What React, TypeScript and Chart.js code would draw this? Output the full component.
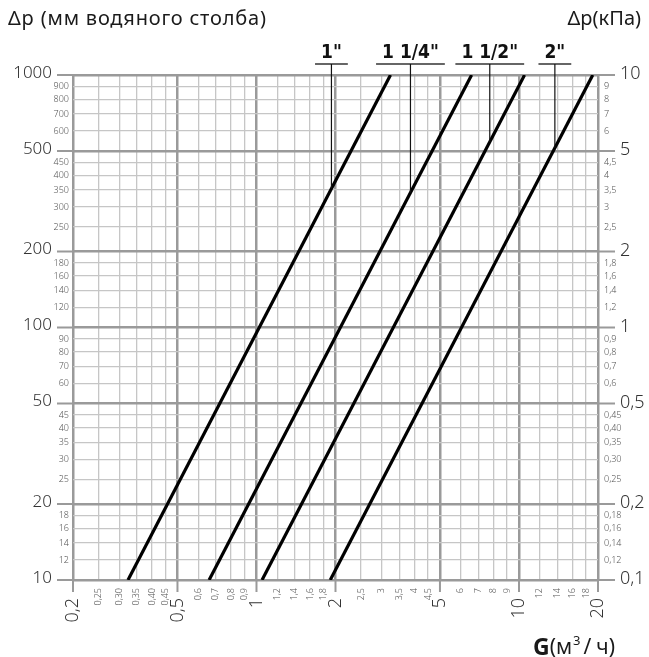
import React, { useEffect, useRef } from "react";
import { Chart, registerables } from "chart.js";

Chart.register(...registerables);

// X axis (G, m3/h)
const xMajor = [0.2, 0.5, 1, 2, 5, 10, 20];
const xMajorLabels = ["0,2", "0,5", "1", "2", "5", "10", "20"];
const xMinor = [0.25, 0.3, 0.35, 0.4, 0.45, 0.6, 0.7, 0.8, 0.9, 1.2, 1.4, 1.6, 1.8, 2.5, 3, 3.5, 4, 4.5, 6, 7, 8, 9, 12, 14, 16, 18];
const xMinorLabels = ["0,25", "0,30", "0,35", "0,40", "0,45", "0,6", "0,7", "0,8", "0,9", "1,2", "1,4", "1,6", "1,8", "2,5", "3", "3,5", "4", "4,5", "6", "7", "8", "9", "12", "14", "16", "18"];

// Y axis (mm water column) and right kPa labels
const yMajor = [10, 20, 50, 100, 200, 500, 1000];
const yMajorLabels = ["10", "20", "50", "100", "200", "500", "1000"];
const yMinor = [12, 14, 16, 18, 25, 30, 35, 40, 45, 60, 70, 80, 90, 120, 140, 160, 180, 250, 300, 350, 400, 450, 600, 700, 800, 900];
const yMinorLabels = ["12", "14", "16", "18", "25", "30", "35", "40", "45", "60", "70", "80", "90", "120", "140", "160", "180", "250", "300", "350", "400", "450", "600", "700", "800", "900"];
const kpaMajorLabels = ["0,1", "0,2", "0,5", "1", "2", "5", "10"];
const kpaMinorLabels = ["0,12", "0,14", "0,16", "0,18", "0,25", "0,30", "0,35", "0,40", "0,45", "0,6", "0,7", "0,8", "0,9", "1,2", "1,4", "1,6", "1,8", "2,5", "3", "3,5", "4", "4,5", "6", "7", "8", "9"];

// Series (pipe sizes): endpoints of straight lines in log-log
const seriesNames = ['1"', '1 1/4"', '1 1/2"', '2"'];
const s1 = [{ x: 0.324, y: 10 }, { x: 3.24, y: 1000 }];
const s114 = [{ x: 0.66, y: 10 }, { x: 6.6, y: 1000 }];
const s112 = [{ x: 1.05, y: 10 }, { x: 10.5, y: 1000 }];
const s2 = [{ x: 1.91, y: 10 }, { x: 19.1, y: 1000 }];
const seriesData = [s1, s114, s112, s2];
// Leader line positions (x value) and where they meet the curve (y value)
const leaderX = [1.93, 3.86, 7.74, 13.7];
const leaderY = [355, 342, 543, 514];

const FONT = "'Noto Sans', 'DejaVu Sans', sans-serif";

const overlay = {
  id: "overlay",
  afterDatasetsDraw(chart: any) {
    const ctx = chart.ctx as CanvasRenderingContext2D;
    const xs = chart.scales.x;
    const ys = chart.scales.y;
    const { left, right, top, bottom } = chart.chartArea;
    ctx.save();

    // major tick extensions
    ctx.strokeStyle = "#9a9a9a";
    ctx.lineWidth = 2;
    yMajor.forEach((v) => {
      const py = ys.getPixelForValue(v);
      ctx.beginPath();
      ctx.moveTo(left - 16, py);
      ctx.lineTo(left, py);
      ctx.moveTo(right, py);
      ctx.lineTo(right + 17, py);
      ctx.stroke();
    });
    xMajor.forEach((v) => {
      const px = xs.getPixelForValue(v);
      ctx.beginPath();
      ctx.moveTo(px, bottom);
      ctx.lineTo(px, bottom + 12);
      ctx.stroke();
    });

    // left labels
    ctx.fillStyle = "#333";
    ctx.textBaseline = "middle";
    ctx.textAlign = "right";
    ctx.font = `300 17px ${FONT}`;
    yMajor.forEach((v, i) => {
      ctx.fillText(yMajorLabels[i], left - 21, ys.getPixelForValue(v) - 2);
    });
    ctx.fillStyle = "#555";
    ctx.font = `300 9px ${FONT}`;
    yMinor.forEach((v, i) => {
      ctx.fillText(yMinorLabels[i], left - 4, ys.getPixelForValue(v));
    });

    // right labels
    ctx.textAlign = "left";
    ctx.fillStyle = "#333";
    ctx.font = `300 18px ${FONT}`;
    yMajor.forEach((v, i) => {
      ctx.fillText(kpaMajorLabels[i], right + 22, ys.getPixelForValue(v) - 1);
    });
    ctx.fillStyle = "#555";
    ctx.font = `300 9px ${FONT}`;
    yMinor.forEach((v, i) => {
      ctx.fillText(kpaMinorLabels[i], right + 6, ys.getPixelForValue(v));
    });

    // bottom labels rotated
    const rot = (text: string, x: number, y: number) => {
      ctx.save();
      ctx.translate(x, y);
      ctx.rotate(-Math.PI / 2);
      ctx.fillText(text, 0, 0);
      ctx.restore();
    };
    ctx.textAlign = "right";
    ctx.textBaseline = "middle";
    ctx.fillStyle = "#333";
    ctx.font = `300 18px ${FONT}`;
    xMajor.forEach((v, i) => rot(xMajorLabels[i], xs.getPixelForValue(v), bottom + 18));
    ctx.fillStyle = "#555";
    ctx.font = `300 9px ${FONT}`;
    xMinor.forEach((v, i) => rot(xMinorLabels[i], xs.getPixelForValue(v), bottom + 8));

    // series labels with leader lines
    ctx.font = `bold 19px 'Liberation Sans Narrow', 'DejaVu Sans Condensed', sans-serif`;
    ctx.textAlign = "center";
    ctx.textBaseline = "alphabetic";
    leaderX.forEach((lx, i) => {
      const px = xs.getPixelForValue(lx);
      const py = ys.getPixelForValue(leaderY[i]);
      const w = ctx.measureText(seriesNames[i]).width;
      ctx.fillStyle = "#111";
      ctx.fillText(seriesNames[i], px, top - 17);
      ctx.strokeStyle = "#333";
      ctx.lineWidth = 1.5;
      ctx.beginPath();
      ctx.moveTo(px - w / 2 - 6, top - 11);
      ctx.lineTo(px + w / 2 + 6, top - 11);
      ctx.stroke();
      ctx.lineWidth = 1.2;
      ctx.strokeStyle = "#111";
      ctx.beginPath();
      ctx.moveTo(px, top - 11);
      ctx.lineTo(px, py);
      ctx.stroke();
    });

    // titles
    ctx.fillStyle = "#1a1a1a";
    ctx.textBaseline = "middle";
    ctx.font = `20px ${FONT}`;
    ctx.textAlign = "left";
    (ctx as any).letterSpacing = "0.8px";
    ctx.fillText("Δp (мм водяного столба)", 8, 19);
    (ctx as any).letterSpacing = "0px";
    ctx.textAlign = "right";
    ctx.fillText("Δp(кПа)", 641, 19);
    // G(м³/ч)
    ctx.textAlign = "left";
    let gx = 533;
    ctx.font = `bold 23px ${FONT}`;
    ctx.fillText("G", gx, 648);
    gx += ctx.measureText("G").width;
    ctx.font = `21px ${FONT}`;
    ctx.fillText("(м", gx, 648);
    gx += ctx.measureText("(м").width + 1;
    ctx.font = `13px ${FONT}`;
    ctx.fillText("3", gx, 641);
    gx += ctx.measureText("3").width + 3;
    ctx.font = `21px ${FONT}`;
    ctx.fillText("/", gx, 648);
    gx += ctx.measureText("/").width + 5;
    ctx.fillText("ч)", gx, 648);

    ctx.restore();
  },
};

export default function App() {
  const ref = useRef<HTMLCanvasElement | null>(null);
  useEffect(() => {
    if (!ref.current) return;
    const majX = new Set(xMajor);
    const majY = new Set(yMajor);
    const gridOpts = (maj: Set<number>) => ({
      drawTicks: false,
      color: (c: any) => (c.tick && maj.has(c.tick.value) ? "#9a9a9a" : "#c6c6c6"),
      lineWidth: (c: any) => (c.tick && maj.has(c.tick.value) ? 2.5 : 1.3),
    });
    const chart = new Chart(ref.current, {
      type: "scatter",
      data: {
        datasets: seriesData.map((d, i) => ({
          label: seriesNames[i],
          data: d,
          showLine: true,
          borderColor: "#000",
          borderWidth: 3.2,
          pointRadius: 0,
        })),
      },
      options: {
        responsive: false,
        animation: false,
        devicePixelRatio: 1,
        layout: { padding: { left: 73, top: 75, right: 51, bottom: 77 } },
        plugins: { legend: { display: false }, tooltip: { enabled: false } },
        scales: {
          x: {
            type: "logarithmic",
            min: 0.2,
            max: 20,
            afterBuildTicks: (s: any) => {
              s.ticks = [...xMajor, ...xMinor].sort((a, b) => a - b).map((v) => ({ value: v }));
            },
            ticks: { display: false },
            border: { display: false },
            grid: gridOpts(majX) as any,
          },
          y: {
            type: "logarithmic",
            min: 10,
            max: 1000,
            afterBuildTicks: (s: any) => {
              s.ticks = [...yMajor, ...yMinor].sort((a, b) => a - b).map((v) => ({ value: v }));
            },
            ticks: { display: false },
            border: { display: false },
            grid: gridOpts(majY) as any,
          },
        },
      },
      plugins: [overlay],
    });
    return () => chart.destroy();
  }, []);
  return (
    <div style={{ position: "absolute", left: 0, top: 0, width: 649, height: 657 }}>
      <canvas ref={ref} width={649} height={657} style={{ width: 649, height: 657, display: "block" }} />
    </div>
  );
}
